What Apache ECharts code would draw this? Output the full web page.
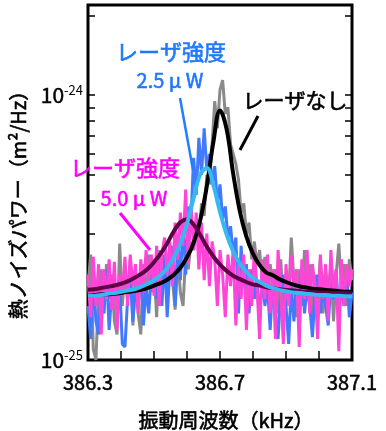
<!DOCTYPE html>
<html><head><meta charset="utf-8">
<script src="https://cdn.jsdelivr.net/npm/echarts@6/dist/echarts.min.js"></script>
<style>html,body{margin:0;padding:0;background:#fff}#c{width:386px;height:431px}</style>
</head><body><div id="c"></div>
<script>
// values in units of 1e-25 m^2/Hz
const UNIT_EXP = -25;
const xTicks = [386.3,386.4,386.5,386.6,386.7,386.8,386.9,387.0,387.1];
const xTickLabels = [386.3,386.7,387.1];
const yTicks = [1,2,3,4,5,6,7,8,9,10,20];
const yTickLabels = [1,10];

const noiseStart = 386.3, noiseStep = 0.008;
const grayNoise = [1.9,2.5,1.1,1.0,1.8,2.2,1.5,2.3,1.7,2.1,
 1.4,1.25,2.75,1.6,2.2,1.7,2.4,1.35,2.1,1.5,
 1.25,2.3,1.6,2.5,1.8,2.2,1.45,2.6,1.9,2.3,
 1.7,2.5,2.0,1.55,2.4,1.8,1.6,2.5,2.2,2.8,
 2.6,3.2,2.9,3.9,3.5,5.0,4.6,6.5,9.5,7.5,
 10.5,11.4,8.5,9.0,6.5,6.0,5.5,4.8,3.6,3.9,
 3.0,3.3,2.4,2.8,2.3,2.6,2.0,2.45,1.7,2.3,
 1.9,2.2,1.5,2.4,1.6,2.1,1.75,2.9,2.0,1.45,
 2.2,1.6,2.6,1.8,2.3,1.35,2.1,1.7,2.4,1.5,
 2.2,1.8,2.3,1.4,2.1,2.75,1.9,2.3,1.6,2.4,2.0];
const blueNoise = [1.6,1.2,2.0,1.4,1.25,1.9,1.5,2.2,1.3,1.8,
 2.0,1.5,1.9,1.15,1.12,1.7,2.1,1.4,1.9,1.6,
 2.3,1.35,1.9,1.5,2.1,2.4,1.7,2.2,1.6,2.5,
 1.45,2.2,2.7,1.6,2.9,2.0,3.3,2.1,3.8,3.4,
 5.8,4.2,6.9,5.0,7.5,5.2,6.0,4.6,5.4,3.9,
 4.6,3.4,3.8,2.9,3.2,2.5,2.9,1.5,2.7,1.9,
 2.3,1.5,2.2,1.7,2.0,1.4,2.1,1.6,1.9,1.3,
 2.0,1.5,1.2,1.8,2.1,1.6,1.15,1.9,1.4,2.0,
 1.7,2.2,1.5,1.9,1.6,1.22,1.8,2.1,1.5,1.9,
 1.6,1.35,2.0,1.7,2.2,1.5,1.9,1.6,2.1,1.45,1.8];
const pinkNoise = [2.1,1.45,2.45,1.6,2.3,1.25,2.2,1.7,2.4,1.55,
 2.35,1.3,2.1,1.75,2.45,1.6,2.5,1.9,2.3,1.5,
 2.4,1.8,2.6,2.0,2.5,1.75,2.7,1.6,2.5,2.9,
 2.1,2.8,1.9,3.3,2.4,3.6,2.7,4.4,2.3,3.9,
 2.6,3.6,2.2,3.3,2.0,3.0,1.9,2.8,2.4,1.6,
 2.6,2.1,1.45,2.5,1.9,2.6,1.35,2.3,1.7,2.5,
 1.3,2.2,1.6,2.6,1.9,1.2,2.4,1.7,2.5,1.5,
 2.2,1.2,2.6,1.8,1.15,2.3,1.6,2.5,1.9,2.2,
 1.12,2.4,1.7,2.6,1.5,2.3,1.9,1.2,2.5,1.7,
 2.3,1.4,2.6,1.8,2.2,1.08,2.4,1.6,2.3,1.9,2.2];

const fitFreq = [386.30,386.32,386.34,386.36,386.38,386.40,386.42,386.44,386.46,386.48,
 386.50,386.52,386.54,386.56,386.58,386.60,386.62,386.64,386.66,386.68,
 386.70,386.72,386.74,386.76,386.78,386.80,386.82,386.84,386.86,386.88,
 386.90,386.92,386.94,386.96,386.98,387.00,387.02,387.04,387.06,387.08,387.10];
const blackFit = [1.75,1.76,1.77,1.77,1.78,1.79,1.81,1.82,1.84,1.87,
 1.91,1.95,2.01,2.10,2.23,2.44,2.77,3.37,4.53,6.66,
 8.75,7.44,5.05,3.65,2.92,2.52,2.28,2.14,2.09,2.02,
 1.97,1.93,1.90,1.88,1.86,1.85,1.84,1.83,1.82,1.81,1.81];
const cyanFit = [1.75,1.75,1.76,1.78,1.79,1.81,1.83,1.85,1.89,1.94,
 2.00,2.09,2.22,2.43,2.75,3.27,4.08,5.02,5.31,4.57,
 3.63,2.98,2.57,2.31,2.15,2.04,1.97,1.91,1.87,1.84,
 1.82,1.80,1.79,1.78,1.77,1.76,1.76,1.75,1.75,1.74,1.74];
const purpleFit = [1.84,1.85,1.87,1.89,1.91,1.94,1.98,2.04,2.11,2.20,
 2.34,2.52,2.76,3.06,3.31,3.40,3.25,2.97,2.68,2.46,
 2.29,2.17,2.08,2.02,1.97,1.93,1.91,1.88,1.87,1.85,
 1.84,1.83,1.82,1.81,1.81,1.80,1.80,1.79,1.79,1.79,1.78];

const FONT = '"Noto Sans CJK JP", "Noto Sans", sans-serif';
const noisePts = arr => arr.map((v,i)=>[+(noiseStart + i*noiseStep).toFixed(3), v]);
const fitPts = arr => arr.map((v,i)=>[fitFreq[i], v]);

const chart = echarts.init(document.getElementById('c'), null, {renderer:'canvas'});
const yCommon = {
  type:'log', logBase:10, min:1, max:21.9,
  axisLine:{show:false}, splitLine:{show:false},
  axisTick:{show:true, inside:true, length:7, lineStyle:{color:'#000', width:1.5}, customValues: yTicks}
};
const txt = (text, x, y, size, color, extra) => Object.assign({type:'text', x:x, y:y, z:10,
  style:{text:text, fill:color, stroke:color, lineWidth:0.6, font:size+'px '+FONT, textAlign:'center', textVerticalAlign:'middle'}}, extra||{});
chart.setOption({
  animation:false,
  grid:{left:88, right:34, top:5, bottom:71, show:true, borderColor:'#000', borderWidth:3, backgroundColor:'transparent'},
  xAxis:{type:'value', min:386.3, max:387.1, interval:0.1,
    axisLine:{show:false}, splitLine:{show:false},
    axisTick:{show:true, inside:true, length:9, lineStyle:{color:'#000', width:1.5}, customValues: xTicks},
    axisLabel:{customValues: xTickLabels, margin:12, color:'#000', fontSize:20, fontFamily:FONT,
      textBorderColor:'#000', textBorderWidth:0.5,
      formatter: v => (+v).toFixed(1)}
  },
  yAxis:[
    Object.assign({}, yCommon, {position:'left',
      axisLabel:{customValues: yTickLabels, margin:5, color:'#000', fontFamily:FONT,
        formatter: v => '{b|10}{s|' + (Math.round(Math.log10(v)) + UNIT_EXP) + '}',
        rich:{b:{fontSize:21, fontFamily:FONT, color:'#000', textBorderColor:'#000', textBorderWidth:0.5},
              s:{fontSize:13, fontFamily:FONT, color:'#000', padding:[0,0,10,0]}}}}),
    Object.assign({}, yCommon, {position:'right', axisLabel:{show:false}})
  ],
  series:[
    {type:'line', data:noisePts(grayNoise), showSymbol:false, lineStyle:{color:'#8a8a8a', width:3}, z:2},
    {type:'line', data:noisePts(blueNoise), showSymbol:false, lineStyle:{color:'#4179ff', width:3}, z:3},
    {type:'line', data:noisePts(pinkNoise), showSymbol:false, lineStyle:{color:'#ff44d8', width:3}, z:4},
    {type:'line', data:fitPts(blackFit), showSymbol:false, smooth:0.4, lineStyle:{color:'#000', width:4}, z:5},
    {type:'line', data:fitPts(purpleFit), showSymbol:false, smooth:0.4, lineStyle:{color:'#5e0045', width:4}, z:6},
    {type:'line', data:fitPts(cyanFit), showSymbol:false, smooth:0.4, lineStyle:{color:'#36b8f0', width:4}, z:7}
  ],
  graphic:[
    txt('レーザ強度', 171, 52, 22, '#1f78ff'),
    txt('2.5 μ W', 170, 80, 20, '#1f78ff'),
    {type:'line', shape:{x1:180, y1:98, x2:193, y2:170}, style:{stroke:'#1f7fff', lineWidth:2.5}, z:10},
    txt('レーザなし', 295, 100, 21, '#000'),
    {type:'line', shape:{x1:258, y1:116, x2:240, y2:150}, style:{stroke:'#000', lineWidth:3}, z:10},
    txt('レーザ強度', 125, 168, 22, '#ff00ff'),
    txt('5.0 μ W', 134, 198, 20, '#ff00ff'),
    {type:'line', shape:{x1:120, y1:213, x2:150, y2:250}, style:{stroke:'#ff00ff', lineWidth:3}, z:10},
    txt('振動周波数（kHz）', 226, 420, 20, '#000'),
    txt('熱ノイズパワー（m²/Hz）', 18, 200, 20, '#000', {rotation:Math.PI/2})
  ]
});
</script></body></html>
